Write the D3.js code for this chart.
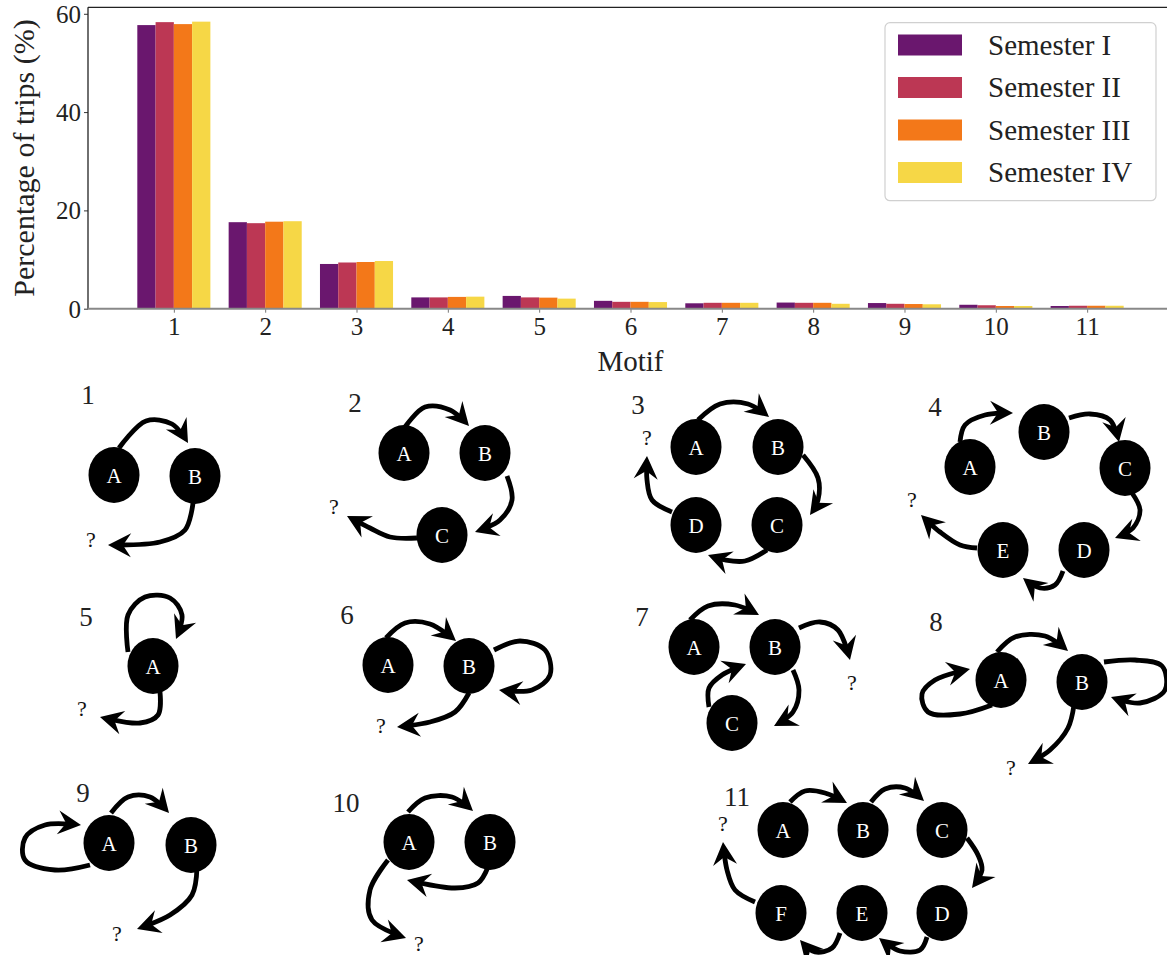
<!DOCTYPE html>
<html>
<head>
<meta charset="utf-8">
<script src="https://cdn.jsdelivr.net/npm/d3@7/dist/d3.min.js"></script>
<style>
  html, body { margin: 0; padding: 0; background: #fff; }
  svg { display: block; }
  text { font-family: "Liberation Serif", "DejaVu Serif", serif; }
</style>
</head>
<body>
<svg id="chart" width="1167" height="955"></svg>
<script>
// ---------------- data ----------------
const motifs = ["1", "2", "3", "4", "5", "6", "7", "8", "9", "10", "11"];
const semesters = ["Semester I", "Semester II", "Semester III", "Semester IV"];
const semesterI   = [57.7, 17.6, 9.1, 2.3, 2.6, 1.6, 1.1, 1.25, 1.15, 0.8, 0.55];
const semesterII  = [58.3, 17.4, 9.4, 2.3, 2.3, 1.4, 1.2, 1.2, 1.0, 0.7, 0.6];
const semesterIII = [57.9, 17.7, 9.5, 2.4, 2.25, 1.4, 1.2, 1.2, 0.95, 0.55, 0.6];
const semesterIV  = [58.4, 17.8, 9.7, 2.45, 2.05, 1.35, 1.2, 1.0, 0.9, 0.55, 0.6];
const yTickValues = [0, 20, 40, 60];
const colors = ["#6a176e", "#bc3754", "#f37819", "#f6d746"];

const series = [semesterI, semesterII, semesterIII, semesterIV];

// ---------------- layout ----------------
const svg = d3.select("#chart");
const plot = { left: 88, right: 1173, top: 7.3, bottom: 308.7 };

const x = d3.scaleLinear().domain([0.06, 11.94]).range([plot.left, plot.right]);
const yMax = d3.max(series.flat()) * 1.05;
const y = d3.scaleLinear().domain([0, yMax]).range([plot.bottom, plot.top]);

const barW = 0.2;
const gBars = svg.append("g");
series.forEach((vals, s) => {
  gBars.selectAll(null)
    .data(vals)
    .enter().append("rect")
    .attr("x", (d, i) => x(i + 1 - 0.4 + s * barW))
    .attr("width", x(barW) - x(0))
    .attr("y", d => y(d))
    .attr("height", d => y(0) - y(d))
    .attr("fill", colors[s]);
});

// axes
const yAxis = d3.axisLeft(y).tickValues(yTickValues).tickSize(4).tickPadding(3);
const gy = svg.append("g").attr("transform", `translate(${plot.left},0)`).call(yAxis);
gy.select(".domain").remove();
gy.selectAll(".tick line").attr("stroke", "#333");
gy.selectAll(".tick text").attr("font-size", 25).attr("fill", "#222")
  .attr("font-family", "Liberation Serif").attr("dy", "0.34em");

const xAxis = d3.axisBottom(x).tickValues(motifs.map(Number)).tickFormat(d => d).tickSize(4).tickPadding(5);
const gx = svg.append("g").attr("transform", `translate(0,${plot.bottom})`).call(xAxis);
gx.select(".domain").remove();
gx.selectAll(".tick line").attr("stroke", "#777");
gx.selectAll(".tick text").attr("font-size", 25).attr("fill", "#222")
  .attr("font-family", "Liberation Serif");

// spines
svg.append("line").attr("x1", plot.left).attr("x2", plot.left).attr("y1", plot.top).attr("y2", plot.bottom)
  .attr("stroke", "#222").attr("stroke-width", 1.3);
svg.append("line").attr("x1", plot.left).attr("x2", plot.right).attr("y1", plot.top).attr("y2", plot.top)
  .attr("stroke", "#222").attr("stroke-width", 1.3);
svg.append("line").attr("x1", plot.left).attr("x2", plot.right).attr("y1", plot.bottom).attr("y2", plot.bottom)
  .attr("stroke", "#888").attr("stroke-width", 2);

// axis titles
svg.append("text").attr("x", (plot.left + plot.right) / 2).attr("y", 371)
  .attr("text-anchor", "middle").attr("font-size", 29).attr("fill", "#222").text("Motif");
svg.append("text")
  .attr("transform", `translate(34,${(plot.top + plot.bottom) / 2}) rotate(-90)`)
  .attr("text-anchor", "middle").attr("font-size", 30).attr("fill", "#222")
  .text("Percentage of trips (%)");

// legend
const lg = svg.append("g");
lg.append("rect").attr("x", 885).attr("y", 22.7).attr("width", 271).attr("height", 178)
  .attr("rx", 5).attr("fill", "#fff").attr("fill-opacity", 0.85)
  .attr("stroke", "#d0d0d0").attr("stroke-width", 1.2);
semesters.forEach((name, i) => {
  const cy = 45 + i * 42.5;
  lg.append("rect").attr("x", 898).attr("y", cy - 10.5).attr("width", 64).attr("height", 21).attr("fill", colors[i]);
  lg.append("text").attr("x", 988).attr("y", cy).attr("dy", "0.34em")
    .attr("font-size", 29).attr("fill", "#222").text(name);
});

// ---------------- motif diagrams ----------------
const motifDiagrams = [
  { label: [88, 395], q: [91, 539],
    nodes: { A: [114, 475], B: [195, 476] },
    arrows: [
      [[119, 448], [146, 421], [172, 424], [188, 443]],
      [[193, 503], [185, 530], [160, 542], [108, 545]]
    ] },
  { label: [355, 403], q: [334, 506],
    nodes: { A: [404, 453], B: [485, 453], C: [442, 535] },
    arrows: [
      [[405, 427], [425, 407], [450, 410], [469, 426]],
      [[507, 476], [512, 500], [500, 520], [475, 532]],
      [[417, 538], [390, 537], [370, 528], [347, 516]]
    ] },
  { label: [638, 405], q: [647, 437],
    nodes: { A: [696, 447], B: [778, 447], C: [777, 525], D: [696, 525] },
    arrows: [
      [[698, 420], [720, 404], [748, 404], [769, 417]],
      [[803, 455], [818, 478], [818, 500], [810, 515]],
      [[767, 550], [745, 561], [725, 560], [708, 555]],
      [[672, 512], [652, 500], [647, 480], [647, 456]]
    ] },
  { label: [935, 407], q: [912, 499],
    nodes: { A: [970, 467], B: [1044, 432], C: [1125, 468], D: [1084, 550], E: [1003, 550] },
    arrows: [
      [[960, 442], [965, 425], [985, 415], [1013, 413]],
      [[1069, 418], [1090, 414], [1110, 420], [1119, 442]],
      [[1132, 493], [1140, 510], [1133, 528], [1115, 538]],
      [[1063, 571], [1055, 585], [1040, 588], [1023, 578]],
      [[977, 548], [960, 545], [940, 532], [921, 515]]
    ] },
  { label: [86, 617], q: [82, 708],
    nodes: { A: [153, 666] },
    arrows: [
      [[128, 652], [128, 615], [145, 597], [170, 598], [182, 615], [176, 639]],
      [[160, 692], [158, 715], [140, 723], [100, 717]]
    ] },
  { label: [347, 615], q: [381, 725],
    nodes: { A: [388, 665], B: [469, 666] },
    arrows: [
      [[386, 638], [405, 623], [430, 624], [456, 641]],
      [[494, 650], [520, 641], [545, 650], [550, 675], [532, 690], [499, 690]],
      [[469, 693], [455, 712], [430, 722], [397, 727]]
    ] },
  { label: [642, 617], q: [852, 682],
    nodes: { A: [694, 647], B: [775, 647], C: [732, 723] },
    arrows: [
      [[690, 620], [708, 606], [735, 605], [759, 615]],
      [[709, 707], [709, 688], [722, 675], [746, 664]],
      [[793, 670], [799, 690], [793, 712], [774, 726]],
      [[799, 628], [820, 622], [838, 630], [850, 660]]
    ] },
  { label: [936, 622], q: [1011, 767],
    nodes: { A: [1001, 680], B: [1082, 682] },
    arrows: [
      [[997, 652], [1015, 637], [1045, 636], [1068, 651]],
      [[992, 705], [960, 714], [928, 712], [922, 694], [935, 680], [970, 669]],
      [[1104, 662], [1135, 660], [1162, 666], [1165, 690], [1140, 703], [1111, 697]],
      [[1074, 705], [1068, 728], [1050, 750], [1028, 764]]
    ] },
  { label: [83, 793], q: [117, 933],
    nodes: { A: [109, 843], B: [191, 845] },
    arrows: [
      [[111, 813], [128, 797], [150, 797], [169, 813]],
      [[90, 865], [55, 870], [25, 860], [25, 838], [45, 825], [81, 825]],
      [[197, 867], [192, 895], [170, 915], [137, 929]]
    ] },
  { label: [346, 803], q: [419, 943],
    nodes: { A: [409, 842], B: [490, 842] },
    arrows: [
      [[408, 812], [425, 798], [452, 797], [473, 811]],
      [[488, 867], [478, 883], [455, 888], [407, 880]],
      [[388, 860], [370, 890], [372, 920], [406, 938]]
    ] },
  { label: [737, 797], q: [723, 823],
    nodes: { A: [783, 830], B: [863, 830], C: [942, 830], D: [942, 913], E: [862, 913], F: [781, 913] },
    arrows: [
      [[790, 802], [805, 791], [825, 793], [847, 803]],
      [[871, 802], [885, 789], [905, 788], [924, 801]],
      [[967, 838], [978, 855], [982, 870], [972, 888]],
      [[927, 937], [920, 950], [900, 951], [879, 938]],
      [[840, 933], [832, 948], [815, 952], [800, 940]],
      [[755, 902], [735, 890], [727, 870], [723, 842]]
    ] }
];

const defs = svg.append("defs");
defs.append("marker").attr("id", "head")
  .attr("markerUnits", "userSpaceOnUse")
  .attr("viewBox", "-26 -14 28 28").attr("markerWidth", 28).attr("markerHeight", 28)
  .attr("refX", 0).attr("refY", 0).attr("orient", "auto")
  .append("path").attr("d", "M0,0 L-23,-12 L-15,0 L-23,12 Z").attr("fill", "#000");

const curve = d3.line().curve(d3.curveCatmullRom.alpha(0.5));
const gd = svg.append("g");

motifDiagrams.forEach((m, k) => {
  const g = gd.append("g");
  g.selectAll("path.arr").data(m.arrows).enter().append("path")
    .attr("class", "arr")
    .attr("d", curve)
    .attr("fill", "none").attr("stroke", "#000").attr("stroke-width", 4.8)
    .attr("marker-end", "url(#head)")
    .each(function () {
      const L = this.getTotalLength();
      d3.select(this).attr("stroke-dasharray", `${L - 12} ${L + 20}`);
    });
  const nodes = Object.entries(m.nodes);
  g.selectAll("ellipse").data(nodes).enter().append("ellipse")
    .attr("cx", d => d[1][0]).attr("cy", d => d[1][1])
    .attr("rx", 25.5).attr("ry", 28).attr("fill", "#000");
  g.selectAll("text.node").data(nodes).enter().append("text")
    .attr("class", "node")
    .attr("x", d => d[1][0]).attr("y", d => d[1][1]).attr("dy", "0.36em")
    .attr("text-anchor", "middle").attr("font-family", "DejaVu Serif")
    .attr("font-size", 21).attr("fill", "#fff").text(d => d[0]);
  g.append("text").attr("x", m.label[0]).attr("y", m.label[1]).attr("dy", "0.35em")
    .attr("text-anchor", "middle").attr("font-size", 27).attr("fill", "#222").text(motifs[k]);
  g.append("text").attr("x", m.q[0]).attr("y", m.q[1]).attr("dy", "0.35em")
    .attr("text-anchor", "middle").attr("font-size", 22).attr("fill", "#111").text("?");
});
</script>
</body>
</html>
